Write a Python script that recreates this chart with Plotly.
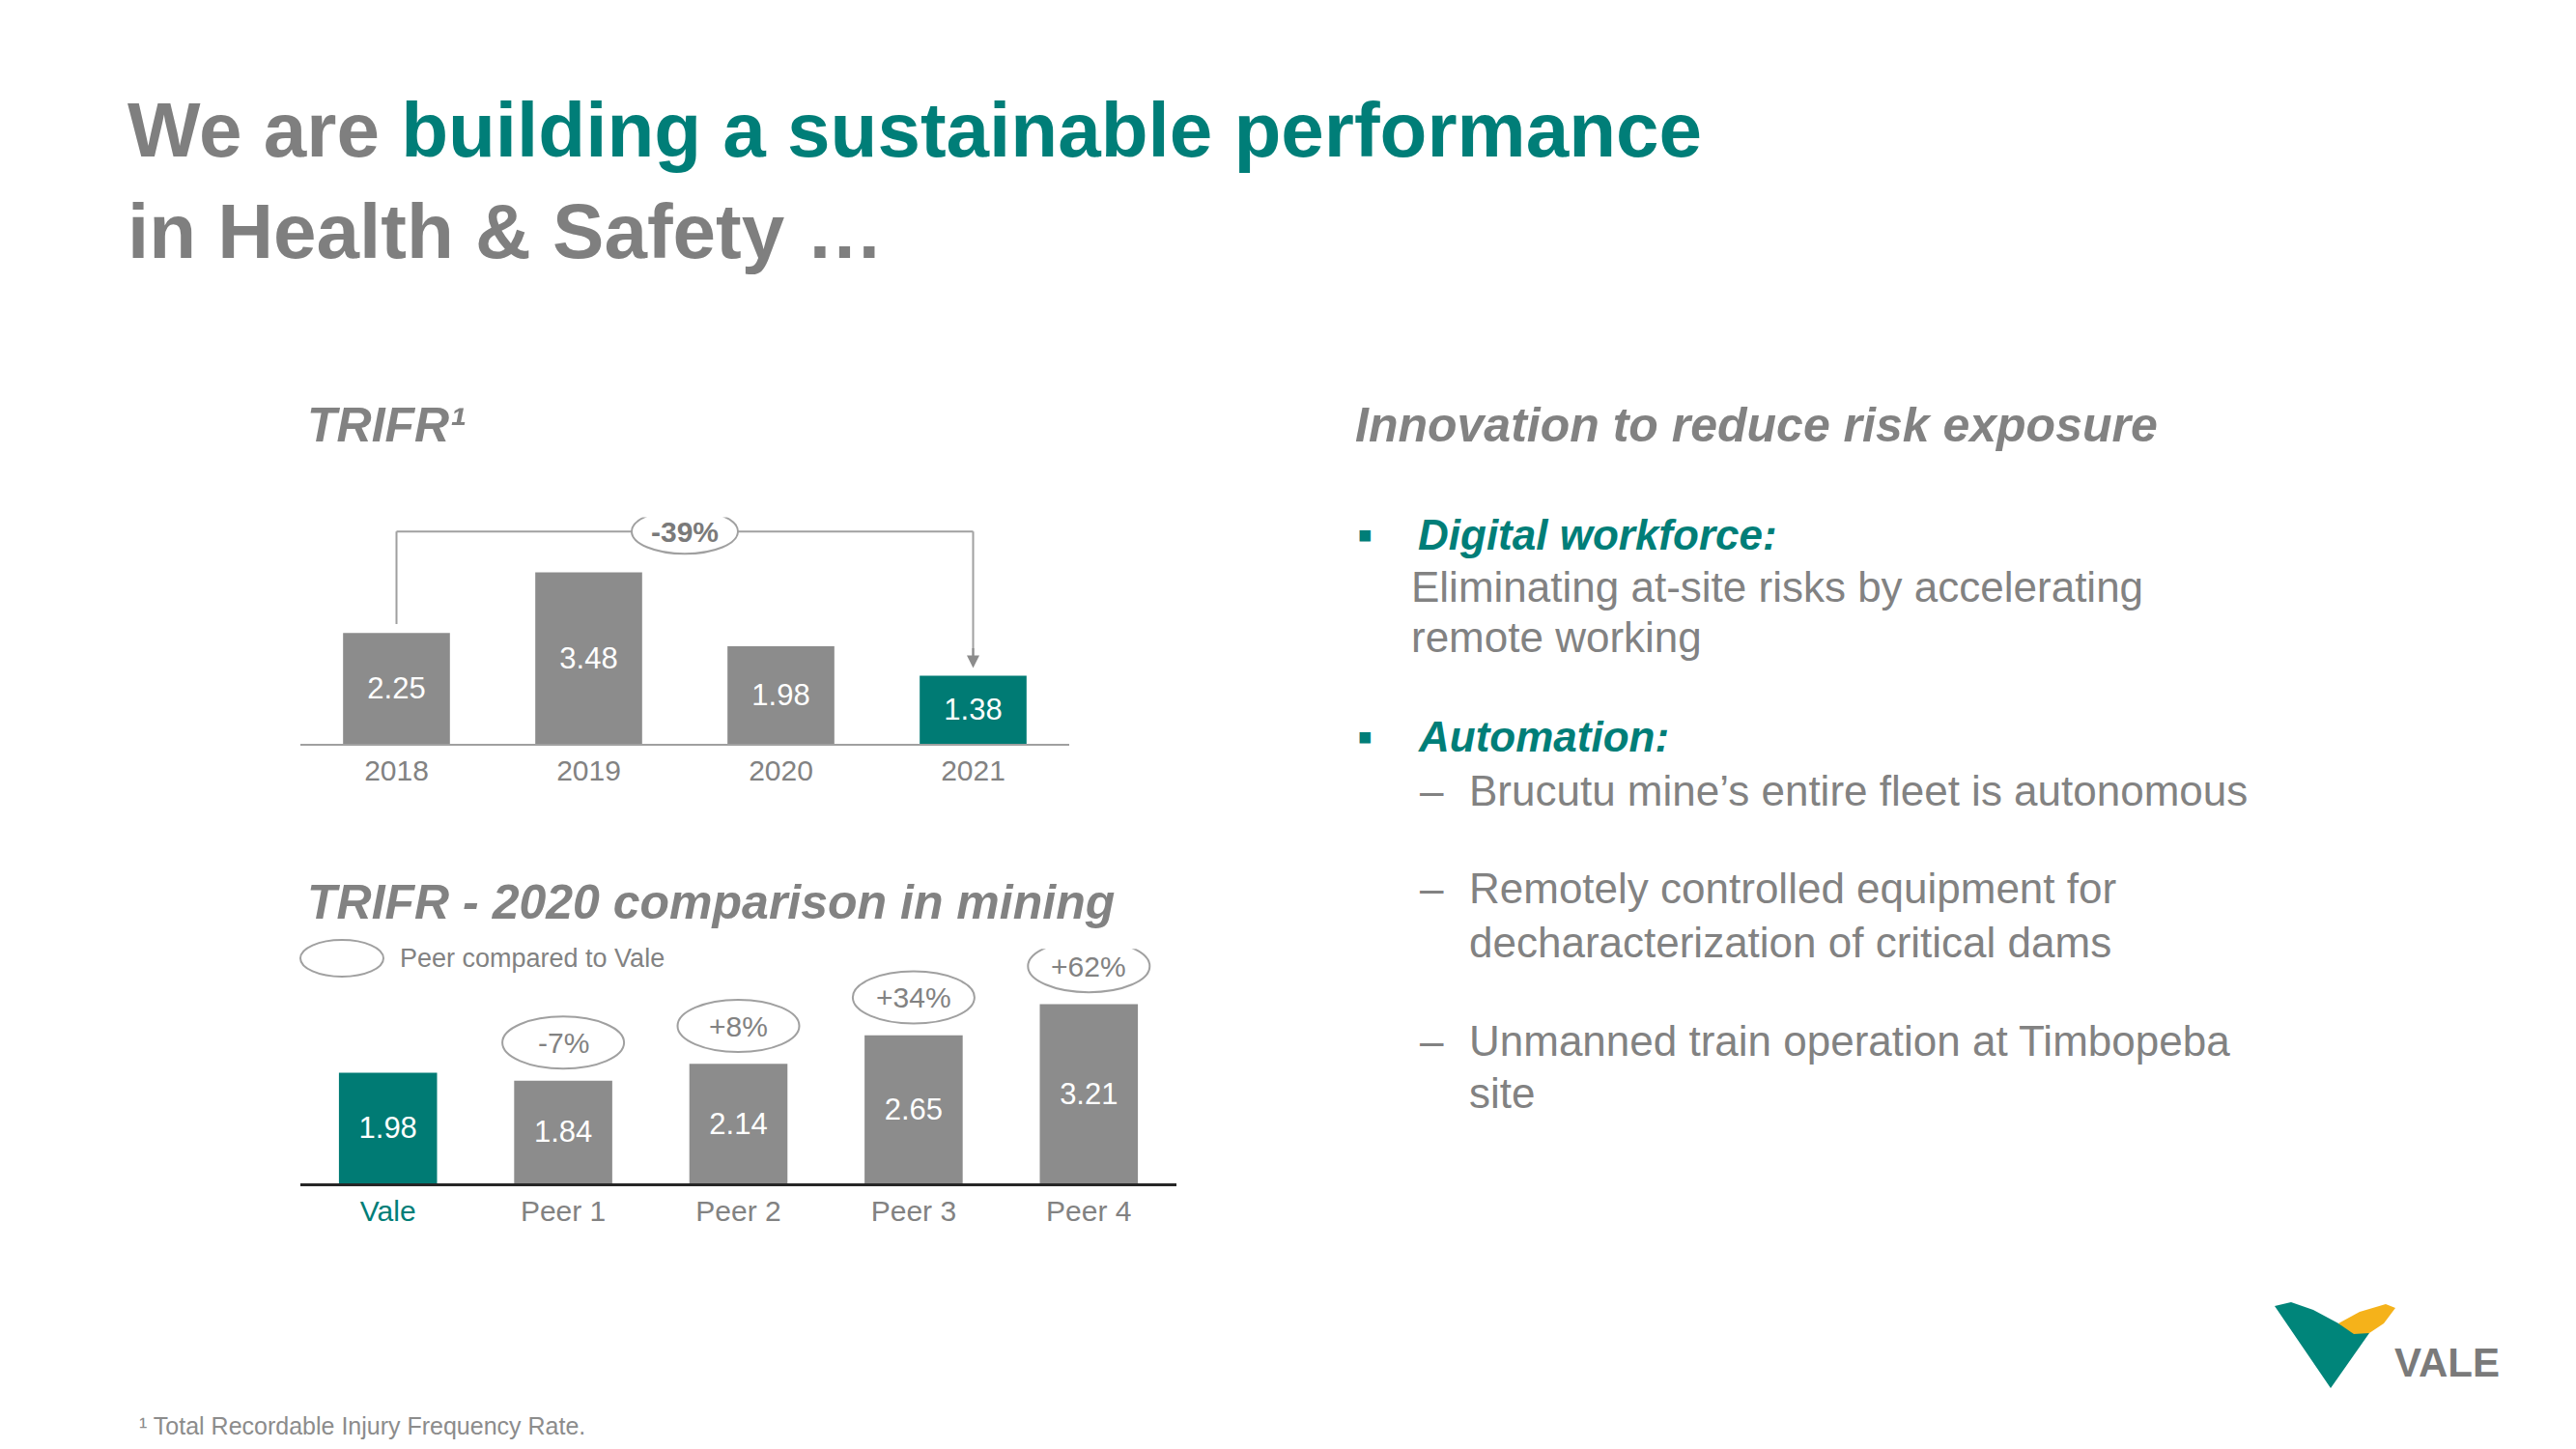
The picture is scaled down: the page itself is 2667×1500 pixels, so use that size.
import plotly.graph_objects as go

W, H = 2667, 1500


def px(x):
    return x / W


def py(y):
    return 1 - y / H


# ---------------- data ----------------
years = ["2018", "2019", "2020", "2021"]
trifr = [2.25, 3.48, 1.98, 1.38]

companies = ["Vale", "Peer 1", "Peer 2", "Peer 3", "Peer 4"]
trifr_2020 = [1.98, 1.84, 2.14, 2.65, 3.21]

TEAL = "#007b74"
TEAL_TXT = "#007e78"
GRAY_BAR = "#8c8c8c"
GRAY_TXT = "#828282"
GRAY_LINE = "#a0a0a0"
FONT = "Liberation Sans Narrow, Arial Narrow, Liberation Sans, Arial, sans-serif"

fig = go.Figure()

# top chart
top_colors = [GRAY_BAR] * (len(years) - 1) + [TEAL]
fig.add_trace(go.Bar(
    x=years, y=trifr, width=0.556,
    marker=dict(color=top_colors, line=dict(width=0)),
    text=[f"{v:.2f}" for v in trifr], textposition="inside",
    insidetextanchor="middle", textangle=0,
    textfont=dict(color="white", size=31, family=FONT),
    xaxis="x", yaxis="y", hoverinfo="skip", showlegend=False,
))

# bottom chart
bot_colors = [TEAL] + [GRAY_BAR] * (len(companies) - 1)
fig.add_trace(go.Bar(
    x=companies, y=trifr_2020, width=0.56,
    marker=dict(color=bot_colors, line=dict(width=0)),
    text=[f"{v:.2f}" for v in trifr_2020], textposition="inside",
    insidetextanchor="middle", textangle=0,
    textfont=dict(color="white", size=31, family=FONT),
    xaxis="x2", yaxis="y2", hoverinfo="skip", showlegend=False,
))

TOP_BASE, TOP_UNIT, TOP_MAX = 770, 51.0, 4.6
BOT_BASE, BOT_UNIT, BOT_MAX = 1225, 57.8, 4.2

bot_ticktext = [f"<span style='color:{TEAL_TXT}'>{companies[0]}</span>"] + companies[1:]

fig.update_layout(
    width=W, height=H, margin=dict(l=0, r=0, t=0, b=0),
    paper_bgcolor="white", plot_bgcolor="white",
    font=dict(family=FONT, color=GRAY_TXT),
    xaxis=dict(domain=[px(311), px(1107)], range=[-0.5, len(years) - 0.5],
               type="category", anchor="y", showline=True, linecolor=GRAY_LINE,
               linewidth=2, ticks="", showgrid=False, zeroline=False,
               tickfont=dict(size=30, color=GRAY_TXT, family=FONT)),
    yaxis=dict(domain=[py(TOP_BASE), py(TOP_BASE - TOP_MAX * TOP_UNIT)],
               range=[0, TOP_MAX], visible=False, anchor="x"),
    xaxis2=dict(domain=[px(311), px(1218)], range=[-0.5, len(companies) - 0.5],
                type="category", anchor="y2", showline=True, linecolor="#262626",
                linewidth=3, ticks="", showgrid=False, zeroline=False,
                tickmode="array", tickvals=companies, ticktext=bot_ticktext,
                tickfont=dict(size=30, color=GRAY_TXT, family=FONT)),
    yaxis2=dict(domain=[py(BOT_BASE), py(BOT_BASE - BOT_MAX * BOT_UNIT)],
                range=[0, BOT_MAX], visible=False, anchor="x2"),
)

shapes = []
annotations = []

# ---- bracket with -39% ----
top_y = max(trifr) + 0.83
tip_y = trifr[-1] + 0.16
shapes.append(dict(type="line", xref="x", yref="y", x0=0, x1=0,
                   y0=trifr[0] + 0.18, y1=top_y,
                   line=dict(color=GRAY_LINE, width=2)))
shapes.append(dict(type="line", xref="x", yref="y", x0=0, x1=len(years) - 1,
                   y0=top_y, y1=top_y, line=dict(color=GRAY_LINE, width=2)))
shapes.append(dict(type="line", xref="x", yref="y", x0=len(years) - 1,
                   x1=len(years) - 1, y0=top_y, y1=tip_y + 0.2,
                   line=dict(color=GRAY_LINE, width=2)))
annotations.append(dict(xref="x", yref="y", x=len(years) - 1, y=tip_y, text="",
                        showarrow=True, arrowhead=2, arrowsize=1.3, arrowwidth=2,
                        arrowcolor="#8c8c8c", ax=0, ay=-22))
mid_x = (len(years) - 1) / 2
change_top = round((trifr[-1] / trifr[0] - 1) * 100)
shapes.append(dict(type="circle", xref="x", yref="y", xsizemode="pixel",
                   ysizemode="pixel", xanchor=mid_x, yanchor=top_y,
                   x0=-55, x1=55, y0=-23, y1=23, fillcolor="white",
                   line=dict(color=GRAY_LINE, width=2)))
annotations.append(dict(xref="x", yref="y", x=mid_x, y=top_y,
                        text=f"<b>{change_top:+d}%</b>".replace("+-", "-"),
                        showarrow=False,
                        font=dict(size=30, color="#7a7a7a", family=FONT)))

# ---- peer ellipses ----
for i in range(1, len(companies)):
    pct = round((trifr_2020[i] / trifr_2020[0] - 1) * 100)
    yc = trifr_2020[i] + 0.68
    shapes.append(dict(type="circle", xref="x2", yref="y2", xsizemode="pixel",
                       ysizemode="pixel", xanchor=i, yanchor=yc,
                       x0=-63, x1=63, y0=-27, y1=27, fillcolor="white",
                       line=dict(color=GRAY_LINE, width=2)))
    annotations.append(dict(xref="x2", yref="y2", x=i, y=yc,
                            text=f"{pct:+d}%", showarrow=False,
                            font=dict(size=30, color=GRAY_TXT, family=FONT)))

# legend ellipse
shapes.append(dict(type="circle", xref="paper", yref="paper",
                   x0=px(311), x1=px(397), y0=py(1011), y1=py(973),
                   line=dict(color=GRAY_LINE, width=2)))
annotations.append(dict(xref="paper", yref="paper", x=px(412), y=py(992),
                        xanchor="left", yanchor="middle", showarrow=False,
                        text="Peer compared to Vale",
                        font=dict(size=27, color=GRAY_TXT, family=FONT)))


def text(x, y, s, size, color=GRAY_TXT, anchor="left"):
    annotations.append(dict(xref="paper", yref="paper", x=px(x), y=py(y),
                            xanchor=anchor, yanchor="middle", showarrow=False,
                            text=s, align="left",
                            font=dict(size=size, color=color, family=FONT)))


# title
text(130, 134, f"<b>We are <span style='color:{TEAL_TXT}'>building a sustainable performance</span></b>", 80, "#7f7f7f")
text(130, 239, "<b>in Health & Safety …</b>", 80, "#7f7f7f")

# section headers
text(316, 440, "<b><i>TRIFR¹</i></b>", 50)
text(316, 934, "<b><i>TRIFR - 2020 comparison in mining</i></b>", 50)
text(1401, 440, "<b><i>Innovation to reduce risk exposure</i></b>", 50)

# right panel
text(1403, 553, "▪", 46, TEAL_TXT)
text(1466, 553, "<b><i>Digital workforce:</i></b>", 44, TEAL_TXT)
text(1459, 607, "Eliminating at-site risks by accelerating", 44)
text(1459, 660, "remote working", 44)
text(1403, 762, "▪", 46, TEAL_TXT)
text(1466, 762, "<b><i>Automation:</i></b>", 44, TEAL_TXT)
text(1468, 818, "–", 44)
text(1519, 818, "Brucutu mine’s entire fleet is autonomous", 44)
text(1468, 920, "–", 44)
text(1519, 920, "Remotely controlled equipment for", 44)
text(1519, 975, "decharacterization of critical dams", 44)
text(1468, 1077, "–", 44)
text(1519, 1077, "Unmanned train operation at Timbopeba", 44)
text(1519, 1131, "site", 44)

# footnote
text(142, 1476, "¹ Total Recordable Injury Frequency Rate.", 25, "#8c8c8c")


# Vale logo
def path(points):
    return "M " + " L ".join(f"{px(x)},{py(y)}" for x, y in points) + " Z"


teal_pts = [(2355, 1352), (2372, 1348), (2395, 1356), (2423, 1371),
            (2453, 1380), (2413, 1437)]
yellow_pts = [(2421, 1370), (2443, 1358), (2470, 1350), (2480, 1354),
              (2468, 1370), (2453, 1380), (2437, 1381)]
shapes.append(dict(type="path", xref="paper", yref="paper", path=path(teal_pts),
                   fillcolor="#00857a", line=dict(width=0)))
shapes.append(dict(type="path", xref="paper", yref="paper", path=path(yellow_pts),
                   fillcolor="#f5b21a", line=dict(width=0)))
text(2533, 1410, "<b>VALE</b>", 42, "#7a7a7a", anchor="center")

fig.update_layout(shapes=shapes, annotations=annotations)

fig.write_html("out.html")
